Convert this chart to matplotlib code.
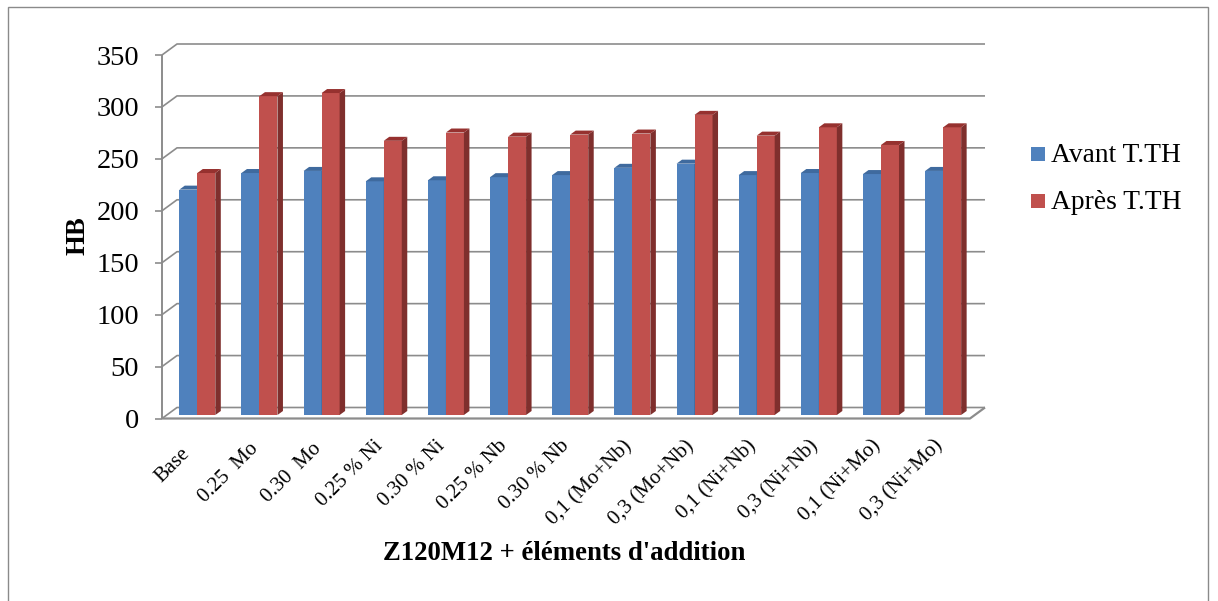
import matplotlib
matplotlib.use('Agg')
import matplotlib.pyplot as plt
from matplotlib.patches import Rectangle

plt.rcParams['font.family'] = ['Liberation Serif', 'DejaVu Serif']

# donnees
categories = ['Base', '0.25  Mo', '0.30  Mo', '0.25 % Ni', '0.30 % Ni', '0.25 % Nb', '0.30 % Nb',
              '0,1 (Mo+Nb)', '0,3 (Mo+Nb)', '0,1 (Ni+Nb)', '0,3 (Ni+Nb)', '0,1 (Ni+Mo)', '0,3 (Ni+Mo)']
avant = [217, 233, 235, 225, 226, 229, 231, 238, 242, 231, 233, 232, 235]
apres = [233, 307, 310, 264, 272, 268, 270, 271, 289, 269, 277, 260, 277]
yticks = [0, 50, 100, 150, 200, 250, 300, 350]

W, H = 1218, 601
fig = plt.figure(figsize=(W / 100, H / 100), dpi=100)

# cadre exterieur
fig.add_artist(Rectangle((8 / W, -0.01), 1200 / W, 1.01 - 7 / H, fill=False, ec='#8a8a8a', lw=1.0,
                         transform=fig.transFigure))

# axes: plan avant du graphique
left, right, y0, y350 = 162, 970, 418.5, 55
ax = fig.add_axes([left / W, 1 - y0 / H, (right - left) / W, (y0 - y350) / H])
ax.set_xlim(0, 13)
ax.set_ylim(0, 350)
ax.axis('off')

px_x = 13 / (right - left)
px_y = 350 / (y0 - y350)
depth_x = 15 * px_x
depth_y = 11 * px_y
gray = '#8c8c8c'


def line(xs, ys, lw=1.2):
    ax.plot(xs, ys, color=gray, lw=lw, clip_on=False, solid_capstyle='butt', zorder=1)


# grille, mur du fond, plancher
for t in yticks:
    line([0, depth_x, 13 + depth_x], [t, t + depth_y, t + depth_y])
    line([-7 * px_x, 0], [t, t])
    ax.text(-23 * px_x, t - 3 * px_y, str(t), ha='right', va='center', fontsize=20.5, color='black')
line([0, 0], [0, 350], lw=1.4)
line([0, 13, 13 + depth_x], [0, 0, depth_y], lw=1.6)

# barres avec effet 3D
bar_w = 18 * px_x
start_x = 17.3 * px_x
off_y = 3.5 * px_y
side_x = 5.5 * px_x
side_y = 4 * px_y

# petits decalages des etiquettes (px), Excel ne les aligne pas tout a fait
label_shift = {'Base': (-7, 8), '0.25  Mo': (0, 3), '0.30  Mo': (0, 3)}


def bar3d(x, v, front, side, top):
    ax.bar(x, v, bar_w, bottom=off_y, align='edge', color=front, zorder=3, clip_on=False)
    ax.fill([x + bar_w, x + bar_w + side_x, x + bar_w + side_x, x + bar_w],
            [off_y, off_y + side_y, off_y + v + side_y, off_y + v], color=side, lw=0, zorder=3, clip_on=False)
    ax.fill([x, x + side_x, x + bar_w + side_x, x + bar_w],
            [off_y + v, off_y + v + side_y, off_y + v + side_y, off_y + v], color=top, lw=0, zorder=3, clip_on=False)


for i, name in enumerate(categories):
    bar3d(i + start_x, avant[i], '#4F81BD', '#345B88', '#3F6A9E')
    bar3d(i + start_x + bar_w, apres[i], '#C0504D', '#7F2F2D', '#96312F')
    sx, sy = label_shift.get(name, (0, 0))
    ax.text(i + 0.5 + (sx - 6) * px_x, (-18 - sy) * px_y, name, rotation=45, ha='right', va='top',
            rotation_mode='anchor', fontsize=15, color='black')

# titres
fig.text(564 / W, 1 - 553 / H, "Z120M12 + éléments d'addition", ha='center', va='center',
         fontsize=19.3, fontweight='bold')
fig.text(78 / W, 1 - 236 / H, 'HB', rotation=90, ha='center', va='center', fontsize=19.3, fontweight='bold')

# legende
for label, col, yp in [('Avant T.TH', '#4F81BD', 154), ('Après T.TH', '#C0504D', 201)]:
    fig.add_artist(Rectangle((1031 / W, 1 - (yp + 7) / H), 14 / W, 14 / H, color=col, lw=0,
                             transform=fig.transFigure))
    fig.text(1051 / W, 1 - (yp + 2) / H, label, ha='left', va='center', fontsize=19.8)

fig.savefig('out.png', dpi=100)
